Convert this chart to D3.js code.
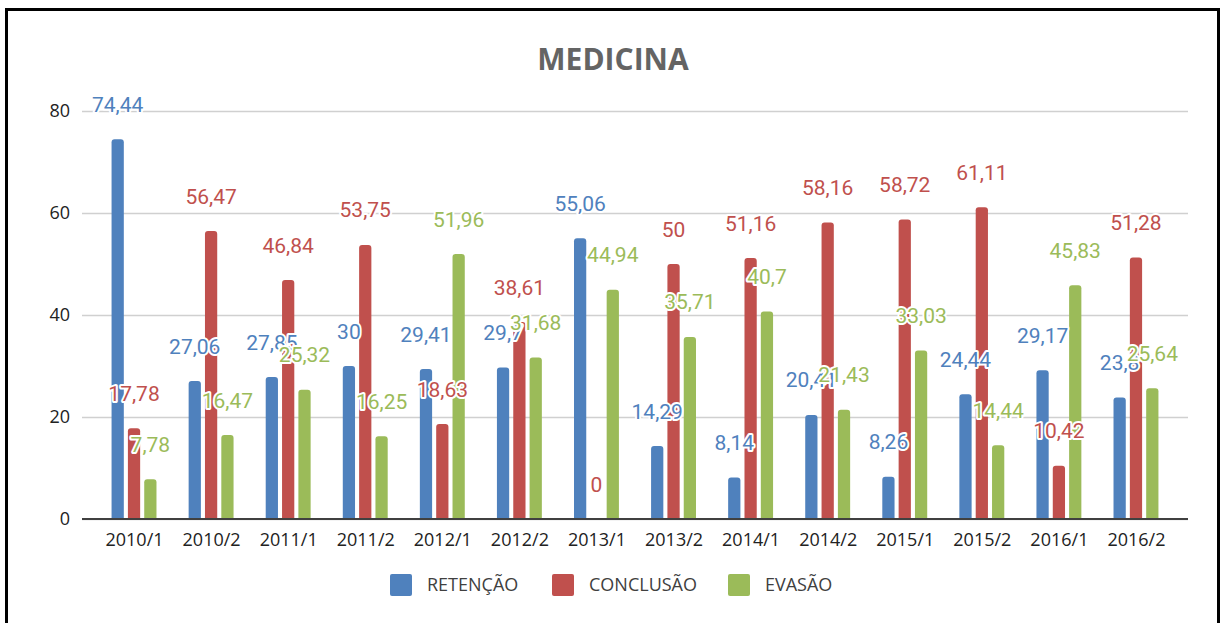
<!DOCTYPE html>
<html>
<head>
<meta charset="utf-8">
<script src="https://cdn.jsdelivr.net/npm/d3@7"></script>
<style>
  body { margin: 0; background: #fff; }
  svg { display: block; }
</style>
</head>
<body>
<svg id="chart" width="1221" height="623"></svg>
<script>
var width = 1221, height = 623;

// data
var categories = ["2010/1", "2010/2", "2011/1", "2011/2", "2012/1", "2012/2", "2013/1",
                  "2013/2", "2014/1", "2014/2", "2015/1", "2015/2", "2016/1", "2016/2"];
var seriesNames = ["RETENÇÃO", "CONCLUSÃO", "EVASÃO"];
var retencao  = [74.44, 27.06, 27.85, 30, 29.41, 29.7, 55.06, 14.29, 8.14, 20.41, 8.26, 24.44, 29.17, 23.8];
var conclusao = [17.78, 56.47, 46.84, 53.75, 18.63, 38.61, 0, 50, 51.16, 58.16, 58.72, 61.11, 10.42, 51.28];
var evasao    = [7.78, 16.47, 25.32, 16.25, 51.96, 31.68, 44.94, 35.71, 40.7, 21.43, 33.03, 14.44, 45.83, 25.64];
var yTicks = [0, 20, 40, 60, 80];
var colors = ["#4f81bd", "#c0504d", "#9bbb59"];

var seriesValues = [retencao, conclusao, evasao];

var svg = d3.select("#chart");

// outer frame
svg.append("rect")
  .attr("x", 6.5).attr("y", 9.5)
  .attr("width", 1212).attr("height", 640)
  .attr("fill", "none")
  .attr("stroke", "#000")
  .attr("stroke-width", 3);

var plotLeft = 82, plotRight = 1188, plotTop = 111, plotBottom = 519;

var x = d3.scalePoint().domain(categories).range([plotLeft, plotRight]).padding(0.675);
var xs = d3.scaleBand().domain(seriesNames).range([-24.5, 24.5])
  .paddingInner(0.25).paddingOuter(0.125);
var y = d3.scaleLinear().domain([0, 80]).range([plotBottom, plotTop]);

// title
svg.append("text")
  .attr("x", 613).attr("y", 70)
  .attr("text-anchor", "middle")
  .attr("font-family", "'Open Sans', sans-serif")
  .attr("font-weight", "bold")
  .attr("font-size", 30)
  .attr("fill", "#646464")
  .text("MEDICINA");

// gridlines + y labels
var yAxis = d3.axisLeft(y).tickValues(yTicks).tickSize(-(plotRight - plotLeft)).tickPadding(12);
var gy = svg.append("g").attr("transform", "translate(" + plotLeft + ",0)").call(yAxis);
gy.select(".domain").remove();
gy.selectAll(".tick line").attr("stroke", "#d0d0d0").attr("stroke-width", 1.5);
gy.selectAll(".tick text")
  .attr("font-family", "'Open Sans', sans-serif")
  .attr("font-size", 18)
  .attr("fill", "#222");

// bars
var flat = [];
seriesValues.forEach(function(vals, s) {
  vals.forEach(function(v, i) {
    flat.push({ s: s, name: seriesNames[s], cat: categories[i], v: v });
  });
});

function barPath(d) {
  var x0 = x(d.cat) + xs(d.name), w = xs.bandwidth();
  var y0 = y(d.v), y1 = y(0);
  if (y1 - y0 <= 0) return "";
  var r = Math.min(3, (y1 - y0) / 2, w / 2);
  return "M" + x0 + "," + y1 +
    "V" + (y0 + r) +
    "Q" + x0 + "," + y0 + " " + (x0 + r) + "," + y0 +
    "H" + (x0 + w - r) +
    "Q" + (x0 + w) + "," + y0 + " " + (x0 + w) + "," + (y0 + r) +
    "V" + y1 + "Z";
}

svg.append("g").selectAll("path")
  .data(flat)
  .enter()
  .append("path")
  .attr("d", barPath)
  .attr("fill", function(d) { return colors[d.s]; });

// x axis
var xAxis = d3.axisBottom(x).tickSize(0).tickPadding(14);
var gx = svg.append("g").attr("transform", "translate(0," + plotBottom + ")").call(xAxis);
gx.select(".domain")
  .attr("d", "M" + plotLeft + ",0H" + plotRight)
  .attr("stroke", "#404040")
  .attr("stroke-width", 2);
gx.selectAll(".tick text")
  .attr("font-family", "'Open Sans', sans-serif")
  .attr("font-size", 18)
  .attr("fill", "#222");

// data labels, each series on top of the previous
function fmt(v) { return String(v).replace(".", ","); }

seriesValues.forEach(function(vals, s) {
  svg.append("g").selectAll("text")
    .data(flat.filter(function(d) { return d.s === s; }))
    .enter()
    .append("text")
    .attr("x", function(d) { return x(d.cat) + xs(d.name) + xs.bandwidth() / 2; })
    .attr("y", function(d) { return y(d.v) - 35; })
    .attr("dy", "0.36em")
    .attr("text-anchor", "middle")
    .attr("font-family", "Roboto, sans-serif")
    .attr("font-size", 21)
    .attr("fill", colors[s])
    .attr("stroke", "#fff")
    .attr("stroke-width", 4)
    .attr("stroke-linejoin", "round")
    .attr("paint-order", "stroke")
    .text(function(d) { return fmt(d.v); });
});

// legend
var legendX = [390, 552, 728];
var legend = svg.append("g").selectAll("g")
  .data(seriesNames)
  .enter()
  .append("g")
  .attr("transform", function(d, i) { return "translate(" + legendX[i] + ",574)"; });
legend.append("rect")
  .attr("width", 22).attr("height", 22).attr("rx", 2)
  .attr("fill", function(d, i) { return colors[i]; });
legend.append("text")
  .attr("x", 37).attr("y", 11).attr("dy", "0.36em")
  .attr("font-family", "'Open Sans', sans-serif")
  .attr("font-size", 18)
  .attr("fill", "#404040")
  .text(function(d) { return d; });
</script>
</body>
</html>
